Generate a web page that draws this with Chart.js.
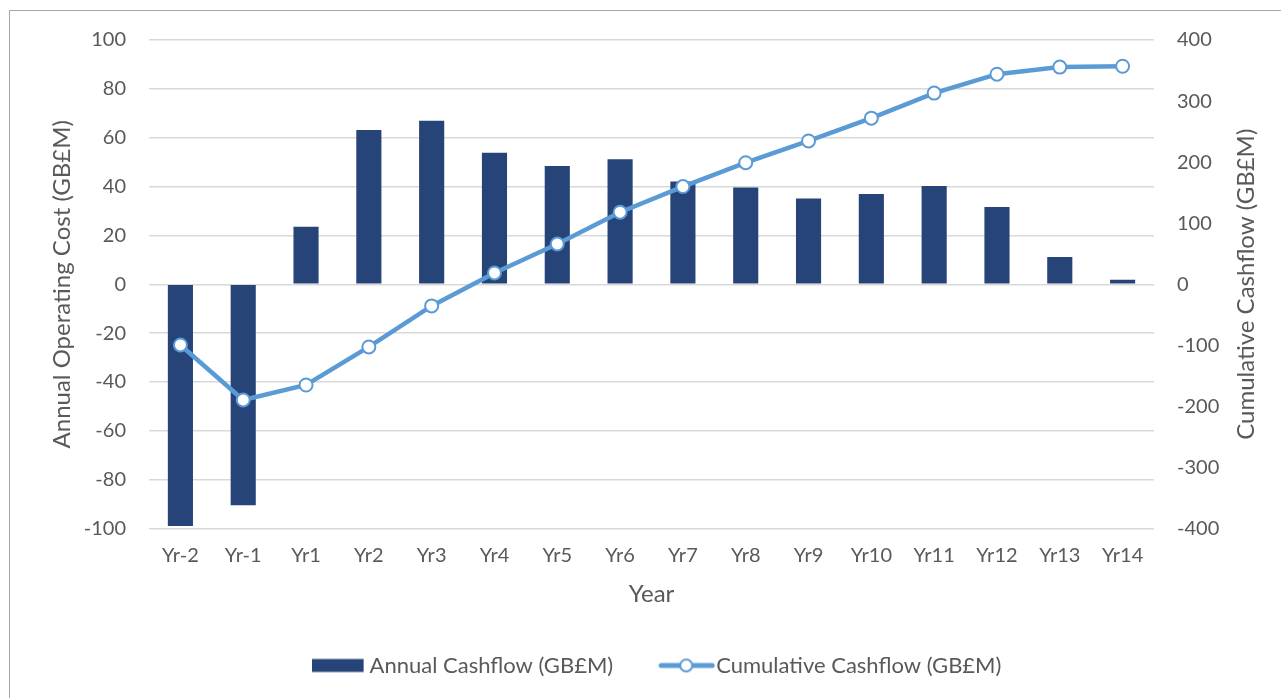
<!DOCTYPE html>
<html>
<head>
<meta charset="utf-8">
<script src="https://cdn.jsdelivr.net/npm/chart.js@4.4.1/dist/chart.umd.min.js"></script>
<style>
  body { margin: 0; background: #ffffff; overflow: hidden; }
  #wrap { position: relative; width: 1281px; height: 698px; }
  #frame {
    position: absolute; left: 9px; top: 10px; width: 1300px; height: 720px;
    border: 1px solid #a6a6a6; box-sizing: border-box;
  }
  #chart { position: absolute; left: 0; top: 0; }
</style>
</head>
<body>
<div id="wrap">
  <div id="frame"></div>
  <canvas id="chart" width="1281" height="698"></canvas>
</div>
<script>
const years = ["Yr-2", "Yr-1", "Yr1", "Yr2", "Yr3", "Yr4", "Yr5", "Yr6", "Yr7", "Yr8", "Yr9", "Yr10", "Yr11", "Yr12", "Yr13", "Yr14"];
const annualCashflow = [-99, -90.5, 23.5, 63.2, 66.9, 53.8, 48.4, 51.2, 42.1, 39.6, 35.1, 37, 40.2, 31.6, 11.2, 1.8];
const cumulativeCashflow = [-99.4, -189.5, -165, -102.7, -35.5, 18.5, 66, 118, 160, 199, 234.7, 272, 313, 344, 355.6, 357];
const leftTicks = { min: -100, max: 100, step: 20 };
const rightTicks = { min: -400, max: 400, step: 100 };

const barLabel = "Annual Cashflow (GB£M)";
const lineLabel = "Cumulative Cashflow (GB£M)";
const leftTitle = "Annual Operating Cost (GB£M)";
const rightTitle = "Cumulative Cashflow (GB£M)";
const xTitle = "Year";

const BAR_COLOR = "#264478";
const LINE_COLOR = "#5B9BD5";
const TEXT_COLOR = "#595959";
const GRID_COLOR = "#d9d9d9";
const FONT = "Lato";

// legend symbols drawn as small images
function barSymbol() {
  const c = document.createElement("canvas");
  c.width = 58;
  c.height = 16;
  const ctx = c.getContext("2d");
  ctx.fillStyle = BAR_COLOR;
  ctx.fillRect(0, 1.5, 52, 13);
  return c;
}
function lineSymbol() {
  const c = document.createElement("canvas");
  c.width = 58;
  c.height = 18;
  const ctx = c.getContext("2d");
  ctx.strokeStyle = LINE_COLOR;
  ctx.lineWidth = 5;
  ctx.lineCap = "round";
  ctx.beginPath();
  ctx.moveTo(3, 9);
  ctx.lineTo(54, 9);
  ctx.stroke();
  ctx.beginPath();
  ctx.arc(28, 9, 6, 0, Math.PI * 2);
  ctx.fillStyle = "#ffffff";
  ctx.fill();
  ctx.lineWidth = 2;
  ctx.stroke();
  return c;
}
const barImg = barSymbol();
const lineImg = lineSymbol();

// right axis title reads bottom-to-top like the left one
const rightTitlePlugin = {
  id: "rightTitle",
  afterDraw(chart) {
    const ctx = chart.ctx;
    const area = chart.chartArea;
    ctx.save();
    ctx.translate(1246, (area.top + area.bottom) / 2);
    ctx.rotate(-Math.PI / 2);
    ctx.font = "24px " + FONT;
    ctx.fillStyle = TEXT_COLOR;
    ctx.textAlign = "center";
    ctx.textBaseline = "middle";
    ctx.fillText(rightTitle, 0, 0);
    ctx.restore();
  },
};

new Chart(document.getElementById("chart"), {
  data: {
    labels: years,
    datasets: [
      {
        type: "bar",
        label: barLabel,
        data: annualCashflow,
        backgroundColor: BAR_COLOR,
        yAxisID: "y",
        barPercentage: 0.4,
        categoryPercentage: 1,
        order: 1,
      },
      {
        type: "line",
        label: lineLabel,
        data: cumulativeCashflow,
        borderColor: LINE_COLOR,
        borderWidth: 4.5,
        tension: 0,
        pointRadius: 6.5,
        pointBorderWidth: 2,
        pointBackgroundColor: "#ffffff",
        pointBorderColor: LINE_COLOR,
        yAxisID: "y1",
        order: 0,
      },
    ],
  },
  options: {
    responsive: false,
    animation: false,
    layout: { padding: { left: 43, right: 0, top: 40, bottom: 11.5 } },
    plugins: {
      tooltip: { enabled: false },
      legend: {
        position: "bottom",
        labels: {
          usePointStyle: true,
          pointStyleWidth: 36,
          boxHeight: 16,
          padding: 56,
          color: TEXT_COLOR,
          font: { family: FONT, size: 22 },
          generateLabels: () => [
            { text: barLabel, pointStyle: barImg, fillStyle: BAR_COLOR, strokeStyle: BAR_COLOR, lineWidth: 0, datasetIndex: 0, fontColor: TEXT_COLOR },
            { text: lineLabel, pointStyle: lineImg, fillStyle: LINE_COLOR, strokeStyle: LINE_COLOR, lineWidth: 0, datasetIndex: 1, fontColor: TEXT_COLOR },
          ],
        },
      },
    },
    scales: {
      x: {
        grid: { display: false, drawTicks: false },
        border: { display: false },
        ticks: { color: TEXT_COLOR, font: { family: FONT, size: 20 }, padding: 15, maxRotation: 0 },
        title: {
          display: true,
          text: xTitle,
          color: TEXT_COLOR,
          font: { family: FONT, size: 24 },
          padding: { top: 0, bottom: -10 },
        },
        afterFit: (scale) => { scale.height = 70; },
      },
      y: {
        position: "left",
        min: leftTicks.min,
        max: leftTicks.max,
        grid: { color: GRID_COLOR, lineWidth: 1.5, drawTicks: false },
        border: { display: false },
        ticks: { stepSize: leftTicks.step, color: TEXT_COLOR, font: { family: FONT, size: 20 }, padding: 23 },
        title: {
          display: true,
          text: leftTitle,
          color: TEXT_COLOR,
          font: { family: FONT, size: 24 },
          padding: { top: 5, bottom: 0 },
        },
        afterFit: (scale) => { scale.width = 106; },
      },
      y1: {
        position: "right",
        min: rightTicks.min,
        max: rightTicks.max,
        grid: { display: false, drawTicks: false },
        border: { display: false },
        ticks: { stepSize: rightTicks.step, color: TEXT_COLOR, font: { family: FONT, size: 20 }, padding: 23 },
        afterFit: (scale) => { scale.width = 127; },
      },
    },
  },
  plugins: [rightTitlePlugin],
});
</script>
</body>
</html>
